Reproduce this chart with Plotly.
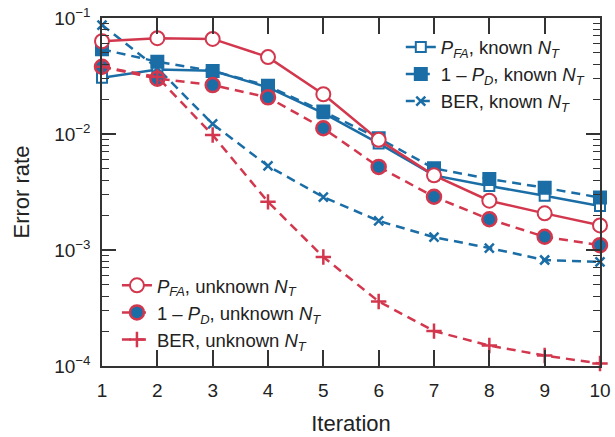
import plotly.graph_objects as go

iterations = [1, 2, 3, 4, 5, 6, 7, 8, 9, 10]

pfa_known = [0.0306, 0.036, 0.0351, 0.0252, 0.0151, 0.0083, 0.0044, 0.00356, 0.00294, 0.0024]
pd_known = [0.0537, 0.042, 0.035, 0.026, 0.0156, 0.0092, 0.00506, 0.0041, 0.00344, 0.00283]
ber_known = [0.087, 0.037, 0.0122, 0.0053, 0.00286, 0.00178, 0.00129, 0.00104, 0.00082, 0.00079]

pfa_unknown = [0.063, 0.067, 0.066, 0.046, 0.022, 0.0089, 0.0044, 0.00266, 0.00207, 0.00163]
pd_unknown = [0.038, 0.030, 0.0264, 0.0207, 0.0112, 0.0052, 0.00288, 0.00184, 0.0013, 0.0011]
ber_unknown = [0.038, 0.031, 0.0098, 0.0026, 0.00087, 0.00036, 0.0002, 0.00015, 0.000123, 0.000105]

y_ticks = [1e-4, 1e-3, 1e-2, 1e-1]
y_ticktext = ["10<sup>−4</sup>", "10<sup>−3</sup>", "10<sup>−2</sup>", "10<sup>−1</sup>"]
y_minor = [m * d for d in (1e-4, 1e-3, 1e-2) for m in range(2, 10)]

RED = "#d2374d"
BLUE = "#1b6da6"
FONT = "Liberation Sans, Arial, sans-serif"
TXT = "#222222"
LW = 2.5
DASH = "9px,6px"

fig = go.Figure()

def add(y, name, color, dash, symbol, fill, size, legend, mlw=2):
    fig.add_trace(go.Scatter(
        x=iterations, y=y, name=name, mode="lines+markers",
        line=dict(color=color, width=LW, dash=dash),
        marker=dict(symbol=symbol, size=size, color=fill,
                    line=dict(color=color, width=mlw)),
        legend=legend, cliponaxis=False,
    ))

# Known N_T (blue)
add(pfa_known, "<i>P</i><sub><i>FA</i></sub>, known <i>N</i><sub><i>T</i></sub>",
    BLUE, "solid", "square", "white", 10, "legend")
add(pd_known, "1 – <i>P</i><sub><i>D</i></sub>, known <i>N</i><sub><i>T</i></sub>",
    BLUE, DASH, "square", BLUE, 12, "legend")
add(ber_known, "BER, known <i>N</i><sub><i>T</i></sub>",
    BLUE, DASH, "x-thin", BLUE, 9, "legend", mlw=2.5)

# Unknown N_T (red)
add(pfa_unknown, "<i>P</i><sub><i>FA</i></sub>, unknown <i>N</i><sub><i>T</i></sub>",
    RED, "solid", "circle", "white", 14, "legend2")
add(pd_unknown, "1 – <i>P</i><sub><i>D</i></sub>, unknown <i>N</i><sub><i>T</i></sub>",
    RED, DASH, "circle", BLUE, 14, "legend2", mlw=2.5)
add(ber_unknown, "BER, unknown <i>N</i><sub><i>T</i></sub>",
    RED, DASH, "cross-thin", RED, 11, "legend2", mlw=2.5)

axis_common = dict(
    showline=True, linecolor="#333333", linewidth=1.5, mirror="ticks",
    ticks="inside", tickcolor="#333333", tickwidth=1.5,
    showgrid=False, zeroline=False, automargin=False,
    tickfont=dict(family=FONT, size=19, color=TXT),
)

fig.update_xaxes(
    **axis_common, range=[1, 10], tickvals=iterations, ticklen=16,
    ticklabelstandoff=6,
    title=dict(text="Iteration", font=dict(family=FONT, size=22, color=TXT), standoff=16),
)
fig.update_yaxes(
    **axis_common, type="log", range=[-4, -1], tickvals=y_ticks, ticktext=y_ticktext, ticklen=14,
    ticklabelstandoff=6,
    minor=dict(ticks="inside", ticklen=7, tickcolor="#333333", tickwidth=1.2,
               showgrid=False, tickvals=y_minor),
    title=dict(text="Error rate", font=dict(family=FONT, size=22, color=TXT), standoff=18),
)

legend_common = dict(
    font=dict(family=FONT, size=18.5, color=TXT),
    bgcolor="rgba(0,0,0,0)", borderwidth=0, tracegroupgap=0,
    itemwidth=30,
)
fig.update_layout(
    width=615, height=437,
    margin=dict(l=102, r=15, t=18, b=71),
    plot_bgcolor="white", paper_bgcolor="white",
    font=dict(family=FONT),
    legend=dict(**legend_common, x=0.6, y=0.97, xanchor="left", yanchor="top"),
    legend2=dict(**legend_common, x=0.03, y=0.285, xanchor="left", yanchor="top"),
)

fig.write_html("out.html")
